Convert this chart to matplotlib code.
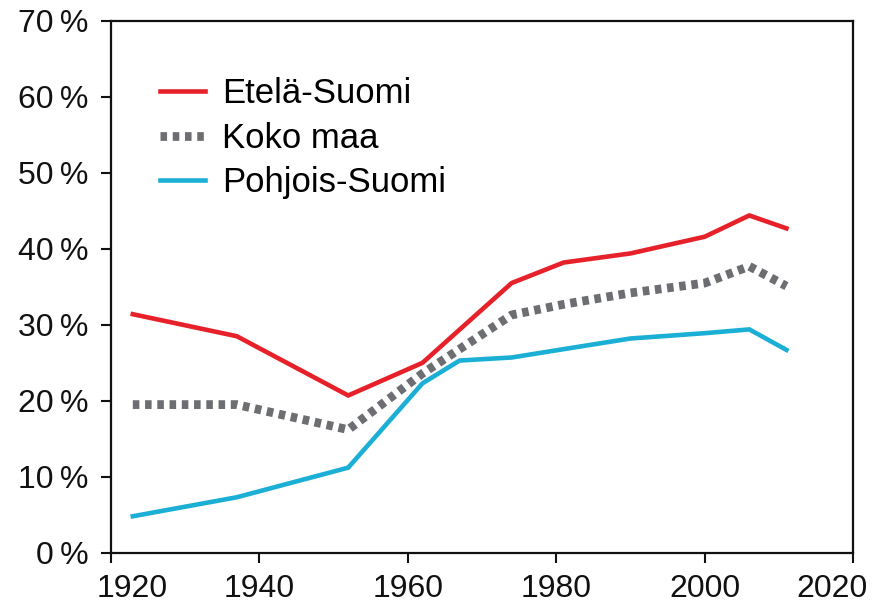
import numpy as np
import matplotlib
matplotlib.use("Agg")
import matplotlib.pyplot as plt
import matplotlib.transforms as mtransforms

plt.rcParams['font.family'] = ['Liberation Sans', 'DejaVu Sans']

# values (percent)
years_etela = [1923, 1937, 1952, 1962, 1974, 1981, 1990, 2000, 2006, 2011]
etela = [31.4, 28.5, 20.7, 25.0, 35.5, 38.2, 39.4, 41.6, 44.4, 42.7]

years_koko = [1923, 1937, 1952, 1962, 1974, 1981, 1990, 2000, 2006, 2011]
koko = [19.5, 19.5, 16.2, 23.6, 31.3, 32.7, 34.2, 35.5, 37.7, 35.1]

years_pohjois = [1923, 1937, 1952, 1962, 1967, 1974, 1981, 1990, 2000, 2006, 2011]
pohjois = [4.8, 7.3, 11.2, 22.3, 25.3, 25.7, 26.8, 28.2, 28.9, 29.4, 26.7]

x_ticks = [1920, 1940, 1960, 1980, 2000, 2020]
y_ticks = [0, 10, 20, 30, 40, 50, 60, 70]

fig = plt.figure(figsize=(8.87, 6.10), dpi=100)
ax = fig.add_axes([0.1246, 0.0939, 0.8374, 0.8717])

ax.plot(years_etela, etela, color='#e62129', lw=3.3, label='Etelä-Suomi',
        solid_joinstyle='miter')
ax.plot(years_koko, koko, color='#6d6e71', lw=6.3, dashes=(0.75, 0.65),
        dash_capstyle='butt', label='Koko maa')
ax.plot(years_pohjois, pohjois, color='#1bafd6', lw=3.3, label='Pohjois-Suomi',
        solid_joinstyle='miter')

ax.set_xlim(1920, 2020)
ax.set_ylim(0, 70)
ax.set_xticks(x_ticks)
ax.set_yticks(y_ticks)
ax.set_yticklabels([f"{v}\u2009%" for v in y_ticks])

for sp in ax.spines.values():
    sp.set_linewidth(1.6)
    sp.set_color('#111111')
ax.tick_params(axis='both', width=1.5, length=7, labelsize=23, colors='#111111')
ax.tick_params(axis='y', pad=9)
ax.tick_params(axis='x', pad=8)

# the first and last year labels sit inside the frame in the reference
fig.canvas.draw()
xlabels = ax.get_xticklabels()
xlabels[0].set_transform(xlabels[0].get_transform() +
                         mtransforms.ScaledTranslation(22 / 100, 0, fig.dpi_scale_trans))
xlabels[-1].set_transform(xlabels[-1].get_transform() +
                          mtransforms.ScaledTranslation(-21 / 100, 0, fig.dpi_scale_trans))

ax.legend(loc='upper left', bbox_to_anchor=(0.066, 0.894), frameon=False,
          fontsize=25, handlelength=1.3, handletextpad=0.49, labelspacing=0.33,
          borderpad=0, borderaxespad=0)

fig.savefig('out.png', dpi=100)
